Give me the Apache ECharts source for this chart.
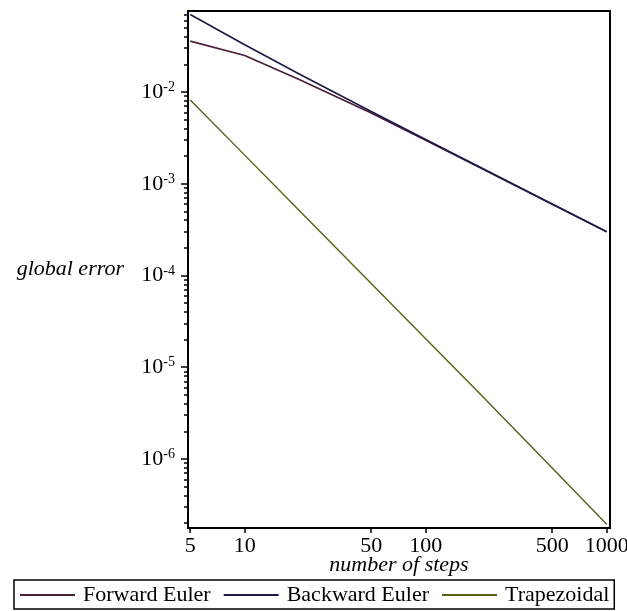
<!DOCTYPE html>
<html>
<head>
<meta charset="utf-8">
<script src="https://cdn.jsdelivr.net/npm/echarts@6/dist/echarts.min.js"></script>
<style>
html,body{margin:0;padding:0;background:#fff;}
#chart{width:627px;height:611px;}
</style>
</head>
<body>
<div id="chart"></div>
<script>
// ---- data ----
const steps = [5, 10, 20, 50, 100, 200, 500, 1000];
const forwardEuler  = [0.0358, 0.0250, 0.0137, 0.0059, 0.00297, 0.00149, 0.000598, 0.000299];
const backwardEuler = [0.0700, 0.0327, 0.0157, 0.00612, 0.00303, 0.00151, 0.000601, 0.000300];
const trapezoidal   = [0.00818, 0.00205, 0.000512, 0.0000820, 0.0000205, 0.00000512, 0.00000080, 0.000000195];

const seriesNames = ['Forward Euler', 'Backward Euler', 'Trapezoidal'];
const xTickValues = [5, 10, 50, 100, 500, 1000];
const yMajorTicks = [1e-6, 1e-5, 1e-4, 1e-3, 1e-2];
const yMinorTicks = [
  2e-7, 3e-7, 4e-7, 5e-7, 6e-7, 7e-7, 8e-7, 9e-7,
  2e-6, 3e-6, 4e-6, 5e-6, 6e-6, 7e-6, 8e-6, 9e-6,
  2e-5, 3e-5, 4e-5, 5e-5, 6e-5, 7e-5, 8e-5, 9e-5,
  2e-4, 3e-4, 4e-4, 5e-4, 6e-4, 7e-4, 8e-4, 9e-4,
  2e-3, 3e-3, 4e-3, 5e-3, 6e-3, 7e-3, 8e-3, 9e-3,
  2e-2, 3e-2, 4e-2, 5e-2, 6e-2, 7e-2
];
const colors = ['#4a1f3a', '#1c1c48', '#5c5c14'];

const FONT = '"Liberation Serif", "Times New Roman", serif';
const Y_MIN = 1.77e-7, Y_MAX = 0.0763;
const X_MIN = 4.86, X_MAX = 1043;

function pairs(vals) { return steps.map((n, i) => [n, vals[i]]); }
function supLabel(v) {
  const e = Math.round(Math.log10(v));
  return '{b|10}{s|' + e + '}';
}

const chart = echarts.init(document.getElementById('chart'), null, {renderer: 'canvas'});
chart.setOption({
  animation: false,
  backgroundColor: '#fff',
  color: colors,
  grid: {left: 188, right: 17, top: 11, bottom: 83, show: true, borderColor: '#000', borderWidth: 2,
    backgroundColor: 'transparent', containLabel: false, outerBoundsMode: 'none'},
  legend: {
    data: seriesNames,
    left: 14, top: 580,
    padding: [4, 5, 3, 6],
    itemGap: 13,
    itemWidth: 55,
    itemHeight: 2,
    icon: 'rect',
    borderColor: '#000',
    borderWidth: 1.5,
    borderRadius: 0,
    textStyle: {fontFamily: FONT, fontSize: 22, color: '#000', padding: [0, 0, 0, 3]}
  },
  xAxis: {
    type: 'log', logBase: 10, min: X_MIN, max: X_MAX,
    name: 'number of steps', nameLocation: 'middle', nameGap: 26, nameMoveOverlap: false,
    nameTextStyle: {fontFamily: FONT, fontSize: 22, fontStyle: 'italic', color: '#000'},
    axisLine: {show: true, lineStyle: {color: '#000', width: 2}},
    axisTick: {show: true, length: 5, inside: false, lineStyle: {color: '#000', width: 1.5}, customValues: xTickValues},
    axisLabel: {show: true, margin: 7, fontFamily: FONT, fontSize: 22, color: '#000', customValues: xTickValues,
      hideOverlap: false, formatter: v => String(Math.round(v))},
    splitLine: {show: false}, minorTick: {show: false}
  },
  yAxis: [{
    type: 'log', logBase: 10, min: Y_MIN, max: Y_MAX,
    name: 'global error', nameLocation: 'middle', nameGap: 64, nameRotate: 0, nameMoveOverlap: false,
    nameTextStyle: {fontFamily: FONT, fontSize: 22, fontStyle: 'italic', color: '#000', align: 'right', verticalAlign: 'middle', padding: [8, 0, 0, 0]},
    axisLine: {show: true, lineStyle: {color: '#000', width: 2}},
    axisTick: {show: true, length: 7, lineStyle: {color: '#000', width: 1.5}, customValues: yMajorTicks},
    axisLabel: {show: true, margin: 13, customValues: yMajorTicks, formatter: supLabel,
      rich: {
        b: {fontFamily: FONT, fontSize: 22, color: '#000'},
        s: {fontFamily: FONT, fontSize: 14, color: '#000', verticalAlign: 'top', padding: [0, 0, 9, 0]}
      }},
    splitLine: {show: false}
  }, {
    type: 'log', logBase: 10, min: Y_MIN, max: Y_MAX, position: 'left',
    axisLine: {show: false},
    axisTick: {show: true, length: 4, lineStyle: {color: '#000', width: 1.5}, customValues: yMinorTicks},
    axisLabel: {show: false},
    splitLine: {show: false}
  }],
  series: [
    {name: seriesNames[0], type: 'line', data: pairs(forwardEuler), symbol: 'none', lineStyle: {width: 1.7, color: colors[0]}, itemStyle: {color: colors[0]}},
    {name: seriesNames[1], type: 'line', data: pairs(backwardEuler), symbol: 'none', lineStyle: {width: 1.7, color: colors[1]}, itemStyle: {color: colors[1]}},
    {name: seriesNames[2], type: 'line', data: pairs(trapezoidal), symbol: 'none', lineStyle: {width: 1.4, color: colors[2]}, itemStyle: {color: colors[2]}}
  ]
});
</script>
</body>
</html>
